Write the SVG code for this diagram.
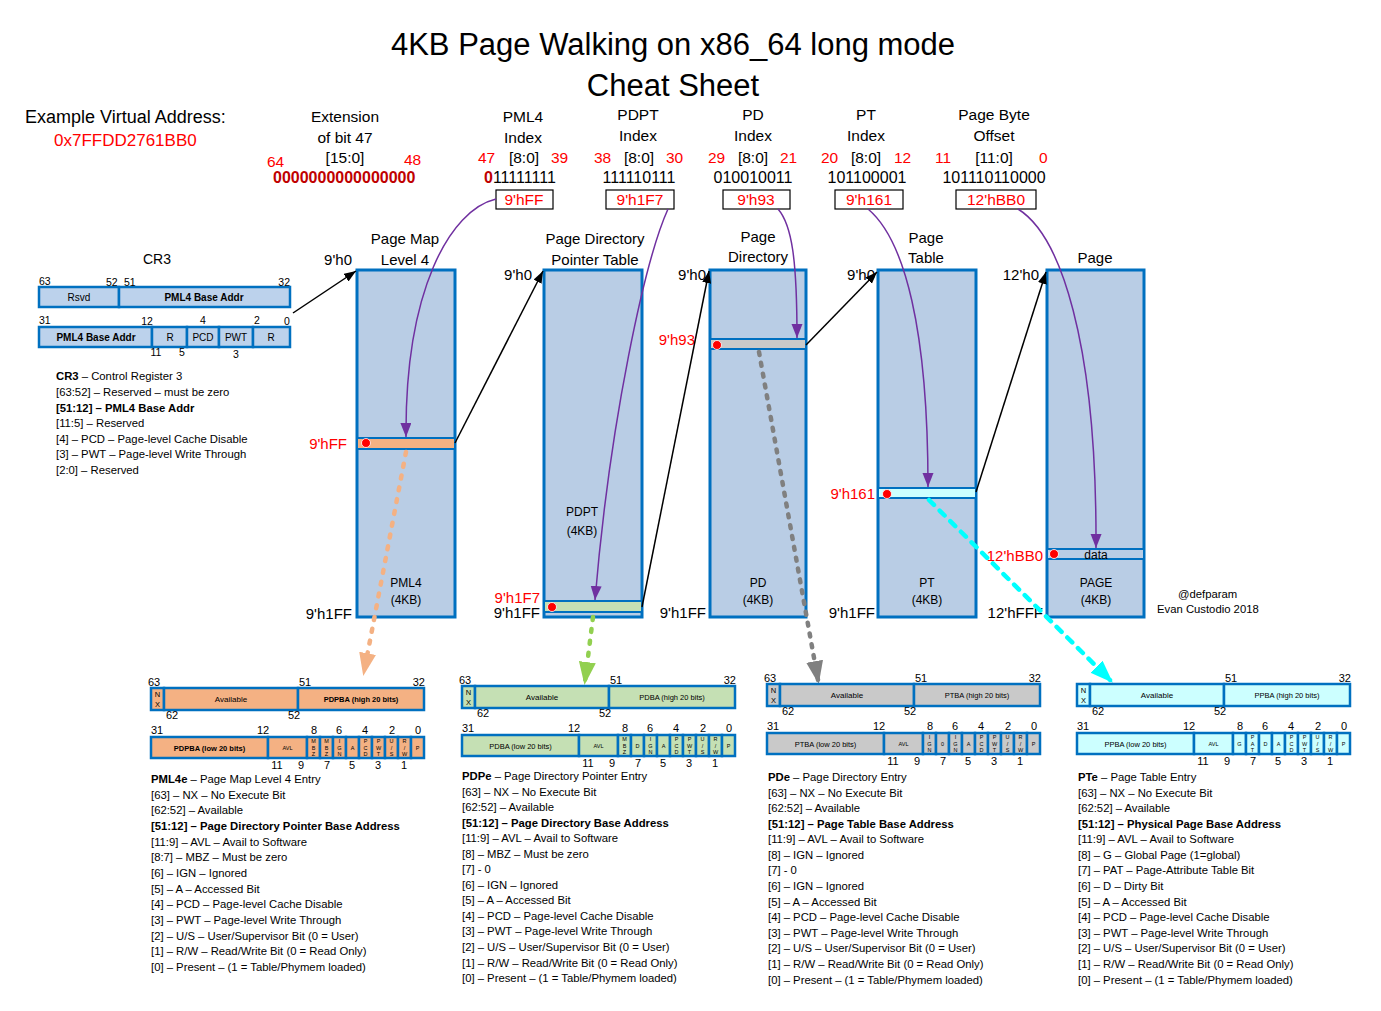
<svg xmlns="http://www.w3.org/2000/svg" width="1381" height="1011" viewBox="0 0 1381 1011">
<style>
text{font-family:"Liberation Sans",Arial,sans-serif;fill:#000}
.r{fill:#FF0000}
.dr{fill:#C00000;font-weight:bold}
.b{font-weight:bold}
.h{font-size:15.5px}
.tb{fill:#B9CDE5;stroke:#0070C0;stroke-width:3}
.row{stroke:#0070C0;stroke-width:2}
.reg rect{fill:#BCD2EC;stroke:#0070C0;stroke-width:2.5}
.ent rect{stroke:#0070C0;stroke-width:2.5}
.pml4e rect{fill:#F4B183}
.pdpe rect{fill:#C5E0B4}
.pde rect{fill:#C9C9C9}
.pte rect{fill:#CCFFFF}
.ent .n{font-size:11px}
.ent .s{font-size:5.5px;text-anchor:middle}
.ent .m{font-size:8px;text-anchor:middle}
.ent .x{font-size:7.5px;text-anchor:middle}
.lbl{font-size:11.3px}
.tl{font-size:15px}
.il{font-size:12px;text-anchor:middle}
.mid{text-anchor:middle}
.end{text-anchor:end}
.blk{stroke:#000;stroke-width:1.5;fill:none}
.pur{stroke:#7030A0;stroke-width:1.5;fill:none}
.dot{fill:#FF0000;stroke:#fff;stroke-width:0.8}
.idx{fill:#fff;stroke:#000;stroke-width:1.2}
</style>
<defs>
<marker id="ab" markerUnits="userSpaceOnUse" markerWidth="13" markerHeight="10" refX="12" refY="4.5" orient="auto"><path d="M0,0 L12,4.5 L0,9 z" fill="#000"/></marker>
<marker id="ap" markerUnits="userSpaceOnUse" markerWidth="15" markerHeight="12" refX="14" refY="5.5" orient="auto"><path d="M0,0 L14,5.5 L0,11 z" fill="#7030A0"/></marker>
<marker id="ao" markerUnits="userSpaceOnUse" markerWidth="24" markerHeight="18" refX="19" refY="8.5" orient="auto"><path d="M0,0 L23,8.5 L0,17 z" fill="#F4B183"/></marker>
<marker id="ag" markerUnits="userSpaceOnUse" markerWidth="24" markerHeight="18" refX="19" refY="8.5" orient="auto"><path d="M0,0 L23,8.5 L0,17 z" fill="#92D050"/></marker>
<marker id="ay" markerUnits="userSpaceOnUse" markerWidth="24" markerHeight="18" refX="19" refY="8.5" orient="auto"><path d="M0,0 L23,8.5 L0,17 z" fill="#808080"/></marker>
<marker id="ac" markerUnits="userSpaceOnUse" markerWidth="24" markerHeight="18" refX="19" refY="8.5" orient="auto"><path d="M0,0 L23,8.5 L0,17 z" fill="#00FFFF"/></marker>
</defs>
<rect width="1381" height="1011" fill="#fff"/>

<g id="title">
<text x="673" y="55" font-size="31" class="mid">4KB Page Walking on x86_64 long mode</text>
<text x="673" y="96" font-size="31" class="mid">Cheat Sheet</text>
</g>

<g id="vaddr">
<text x="25" y="123" font-size="18">Example Virtual Address:</text>
<text x="54" y="146" font-size="17" class="r">0x7FFDD2761BB0</text>
</g>

<g id="ext">
<text x="345" y="122" class="h mid">Extension</text>
<text x="345" y="143" class="h mid">of bit 47</text>
<text x="345" y="163" class="h mid">[15:0]</text>
<text x="267" y="167" class="h r">64</text>
<text x="404" y="165" class="h r">48</text>
<text x="273" y="183" font-size="16" class="dr">0000000000000000</text>
</g>

<g id="idx-pml4">
<text x="523" y="122" class="h mid">PML4</text>
<text x="523" y="143" class="h mid">Index</text>
<text x="478" y="163" class="h r">47</text>
<text x="524" y="163" class="h mid">[8:0]</text>
<text x="551" y="163" class="h r">39</text>
<text x="484" y="183" font-size="16"><tspan class="dr">0</tspan>11111111</text>
<rect x="496" y="190" width="57" height="19" class="idx"/>
<text x="524" y="205" font-size="15.5" class="r mid">9'hFF</text>
</g>
<g id="idx-pdpt">
<text x="638" y="120" class="h mid">PDPT</text>
<text x="638" y="141" class="h mid">Index</text>
<text x="594" y="163" class="h r">38</text>
<text x="639" y="163" class="h mid">[8:0]</text>
<text x="666" y="163" class="h r">30</text>
<text x="639" y="183" font-size="16" class="mid">111110111</text>
<rect x="606" y="190" width="68" height="19" class="idx"/>
<text x="640" y="205" font-size="15.5" class="r mid">9'h1F7</text>
</g>
<g id="idx-pd">
<text x="753" y="120" class="h mid">PD</text>
<text x="753" y="141" class="h mid">Index</text>
<text x="708" y="163" class="h r">29</text>
<text x="753" y="163" class="h mid">[8:0]</text>
<text x="780" y="163" class="h r">21</text>
<text x="753" y="183" font-size="16" class="mid">010010011</text>
<rect x="723" y="190" width="67" height="19" class="idx"/>
<text x="756" y="205" font-size="15.5" class="r mid">9'h93</text>
</g>
<g id="idx-pt">
<text x="866" y="120" class="h mid">PT</text>
<text x="866" y="141" class="h mid">Index</text>
<text x="821" y="163" class="h r">20</text>
<text x="866" y="163" class="h mid">[8:0]</text>
<text x="894" y="163" class="h r">12</text>
<text x="867" y="183" font-size="16" class="mid">101100001</text>
<rect x="835" y="190" width="68" height="19" class="idx"/>
<text x="869" y="205" font-size="15.5" class="r mid">9'h161</text>
</g>
<g id="idx-off">
<text x="994" y="120" class="h mid">Page Byte</text>
<text x="994" y="141" class="h mid">Offset</text>
<text x="935" y="163" class="h r">11</text>
<text x="994" y="163" class="h mid">[11:0]</text>
<text x="1039" y="163" class="h r">0</text>
<text x="994" y="183" font-size="16" class="mid">101110110000</text>
<rect x="956" y="190" width="80" height="19" class="idx"/>
<text x="996" y="205" font-size="15.5" class="r mid">12'hBB0</text>
</g>

<g id="cr3">
<text x="157" y="264" font-size="14" class="mid">CR3</text>
<g class="reg">
<rect x="39" y="287" width="80" height="20"/>
<rect x="119" y="287" width="171" height="20"/>
<rect x="39" y="327" width="113" height="20"/>
<rect x="152" y="327" width="35" height="20"/>
<rect x="187" y="327" width="32" height="20"/>
<rect x="219" y="327" width="34" height="20"/>
<rect x="253" y="327" width="37" height="20"/>
</g>
<text x="79" y="301" font-size="10" class="mid">Rsvd</text>
<text x="204" y="301" font-size="10" class="mid b">PML4 Base Addr</text>
<text x="96" y="341" font-size="10" class="mid b">PML4 Base Addr</text>
<text x="170" y="341" font-size="10" class="mid">R</text>
<text x="203" y="341" font-size="10" class="mid">PCD</text>
<text x="236" y="341" font-size="10" class="mid">PWT</text>
<text x="271" y="341" font-size="10" class="mid">R</text>
<text x="39" y="285" font-size="10.5">63</text>
<text x="106" y="286" font-size="10.5">52</text>
<text x="124" y="286" font-size="10.5">51</text>
<text x="290" y="286" font-size="10.5" class="end">32</text>
<text x="39" y="324" font-size="10.5">31</text>
<text x="147" y="325" font-size="10.5" class="mid">12</text>
<text x="203" y="324" font-size="10.5" class="mid">4</text>
<text x="257" y="324" font-size="10.5" class="mid">2</text>
<text x="287" y="325" font-size="10.5" class="mid">0</text>
<text x="156" y="356" font-size="10.5" class="mid">11</text>
<text x="182" y="356" font-size="10.5" class="mid">5</text>
<text x="236" y="358" font-size="10.5" class="mid">3</text>
<text x="56" y="380" class="lbl"><tspan class="b">CR3</tspan> – Control Register 3</text>
<text x="56" y="396" class="lbl">[63:52] – Reserved – must be zero</text>
<text x="56" y="412" class="lbl b">[51:12] – PML4 Base Addr</text>
<text x="56" y="427" class="lbl">[11:5] – Reserved</text>
<text x="56" y="443" class="lbl">[4] – PCD – Page-level Cache Disable</text>
<text x="56" y="458" class="lbl">[3] – PWT – Page-level Write Through</text>
<text x="56" y="474" class="lbl">[2:0] – Reserved</text>
</g>

<g id="pml4">
<text x="405" y="244" class="tl mid">Page Map</text>
<text x="405" y="265" class="tl mid">Level 4</text>
<rect x="357" y="270" width="98" height="347" class="tb"/>
<rect x="357" y="438" width="98" height="11" fill="#F4B183" class="row"/>
<circle cx="366" cy="443" r="4.5" class="dot"/>
<text x="352" y="265" class="tl end">9'h0</text>
<text x="347" y="449" class="tl end r">9'hFF</text>
<text x="352" y="619" class="tl end">9'h1FF</text>
<text x="406" y="587" class="il">PML4</text>
<text x="406" y="604" class="il">(4KB)</text>
</g>

<g id="pdpt">
<text x="595" y="244" class="tl mid">Page Directory</text>
<text x="595" y="265" class="tl mid">Pointer Table</text>
<rect x="544" y="270" width="98" height="347" class="tb"/>
<rect x="544" y="601" width="98" height="11" fill="#C5E0B4" class="row"/>
<circle cx="552" cy="607" r="4.5" class="dot"/>
<text x="532" y="280" class="tl end">9'h0</text>
<text x="540" y="603" class="tl end r">9'h1F7</text>
<text x="540" y="618" class="tl end">9'h1FF</text>
<text x="582" y="516" class="il">PDPT</text>
<text x="582" y="535" class="il">(4KB)</text>
</g>

<g id="pd">
<text x="758" y="242" class="tl mid">Page</text>
<text x="758" y="262" class="tl mid">Directory</text>
<rect x="710" y="270" width="96" height="347" class="tb"/>
<rect x="710" y="339" width="96" height="10" fill="#C9C9C9" class="row"/>
<circle cx="717" cy="345" r="4.5" class="dot"/>
<text x="706" y="280" class="tl end">9'h0</text>
<text x="695" y="345" class="tl end r">9'h93</text>
<text x="706" y="618" class="tl end">9'h1FF</text>
<text x="758" y="587" class="il">PD</text>
<text x="758" y="604" class="il">(4KB)</text>
</g>

<g id="pt">
<text x="926" y="243" class="tl mid">Page</text>
<text x="926" y="263" class="tl mid">Table</text>
<rect x="878" y="270" width="98" height="347" class="tb"/>
<rect x="878" y="488" width="98" height="10" fill="#CCFFFF" class="row"/>
<circle cx="887" cy="494" r="4.5" class="dot"/>
<text x="875" y="280" class="tl end">9'h0</text>
<text x="875" y="499" class="tl end r">9'h161</text>
<text x="875" y="618" class="tl end">9'h1FF</text>
<text x="927" y="587" class="il">PT</text>
<text x="927" y="604" class="il">(4KB)</text>
</g>

<g id="page">
<text x="1095" y="263" class="tl mid">Page</text>
<rect x="1047" y="270" width="97" height="347" class="tb"/>
<rect x="1047" y="549" width="97" height="10" fill="#B9CDE5" class="row"/>
<circle cx="1054" cy="554" r="4.5" class="dot"/>
<text x="1096" y="559" class="il">data</text>
<text x="1039" y="280" class="tl end">12'h0</text>
<text x="1043" y="561" class="tl end r">12'hBB0</text>
<text x="1043" y="618" class="tl end">12'hFFF</text>
<text x="1096" y="587" class="il">PAGE</text>
<text x="1096" y="604" class="il">(4KB)</text>
</g>

<g id="credit">
<text x="1178" y="598" font-size="11.3">@defparam</text>
<text x="1157" y="613" font-size="11.3">Evan Custodio 2018</text>
</g>

<g id="connectors">
<line x1="293" y1="313" x2="356" y2="271" class="blk" marker-end="url(#ab)"/>
<line x1="455" y1="443" x2="543" y2="271" class="blk" marker-end="url(#ab)"/>
<line x1="642" y1="607" x2="709" y2="271" class="blk" marker-end="url(#ab)"/>
<line x1="806" y1="345" x2="877" y2="272" class="blk" marker-end="url(#ab)"/>
<line x1="976" y1="492" x2="1046" y2="272" class="blk" marker-end="url(#ab)"/>
<path d="M496,199 C450,210 405,290 406,437" class="pur" marker-end="url(#ap)"/>
<path d="M668,209 C645,260 610,420 595,600" class="pur" marker-end="url(#ap)"/>
<path d="M778,209 C792,225 797,260 797,338" class="pur" marker-end="url(#ap)"/>
<path d="M868,209 C905,240 928,330 928,487" class="pur" marker-end="url(#ap)"/>
<path d="M1018,209 C1060,235 1097,340 1096,548" class="pur" marker-end="url(#ap)"/>
<line x1="406" y1="452" x2="364" y2="672" stroke="#F4B183" stroke-width="4.5" stroke-linecap="round" stroke-dasharray="3 9" marker-end="url(#ao)"/>
<line x1="593" y1="617" x2="585" y2="681" stroke="#92D050" stroke-width="4.5" stroke-linecap="round" stroke-dasharray="3 9" marker-end="url(#ag)"/>
<line x1="759" y1="352" x2="818" y2="680" stroke="#808080" stroke-width="4.5" stroke-linecap="round" stroke-dasharray="3 8" marker-end="url(#ay)"/>
<line x1="929" y1="500" x2="1110" y2="680" stroke="#00FFFF" stroke-width="4.5" stroke-linecap="round" stroke-dasharray="7 8" marker-end="url(#ac)"/>
</g>

<g id="pml4e" class="ent pml4e" transform="translate(151,688)">
<rect x="0" y="0" width="13" height="22"/><rect x="13" y="0" width="134" height="22"/><rect x="147" y="0" width="126" height="22"/>
<rect x="0" y="49" width="117" height="21"/><rect x="117" y="49" width="39" height="21"/>
<rect x="156" y="49" width="13" height="21"/><rect x="169" y="49" width="13" height="21"/><rect x="182" y="49" width="13" height="21"/><rect x="195" y="49" width="13" height="21"/><rect x="208" y="49" width="13" height="21"/><rect x="221" y="49" width="13" height="21"/><rect x="234" y="49" width="13" height="21"/><rect x="247" y="49" width="13" height="21"/><rect x="260" y="49" width="13" height="21"/>
<text class="x" x="6.5" y="9">N</text><text class="x" x="6.5" y="19">X</text>
<text class="m" x="80" y="14">Available</text>
<text class="x b" x="210" y="14">PDPBA (high 20 bits)</text>
<text class="x b" x="58.5" y="62.5">PDPBA (low 20 bits)</text>
<text class="s" x="136.5" y="62">AVL</text>
<text class="s"><tspan x="162.5" y="55">M</tspan><tspan x="162.5" y="61.5">B</tspan><tspan x="162.5" y="68">Z</tspan></text>
<text class="s"><tspan x="175.5" y="55">M</tspan><tspan x="175.5" y="61.5">B</tspan><tspan x="175.5" y="68">Z</tspan></text>
<text class="s"><tspan x="188.5" y="55">I</tspan><tspan x="188.5" y="61.5">G</tspan><tspan x="188.5" y="68">N</tspan></text>
<text class="s" x="201.5" y="62">A</text>
<text class="s"><tspan x="214.5" y="55">P</tspan><tspan x="214.5" y="61.5">C</tspan><tspan x="214.5" y="68">D</tspan></text>
<text class="s"><tspan x="227.5" y="55">P</tspan><tspan x="227.5" y="61.5">W</tspan><tspan x="227.5" y="68">T</tspan></text>
<text class="s"><tspan x="240.5" y="55">U</tspan><tspan x="240.5" y="61.5">/</tspan><tspan x="240.5" y="68">S</tspan></text>
<text class="s"><tspan x="253.5" y="55">R</tspan><tspan x="253.5" y="61.5">/</tspan><tspan x="253.5" y="68">W</tspan></text>
<text class="s" x="266.5" y="62">P</text>
<text class="n" x="-3" y="-2">63</text><text class="n mid" x="154" y="-2">51</text><text class="n end" x="274" y="-2">32</text>
<text class="n mid" x="21" y="31">62</text><text class="n mid" x="143" y="31">52</text>
<text class="n" x="0" y="46">31</text><text class="n mid" x="112" y="46">12</text><text class="n mid" x="163" y="46">8</text><text class="n mid" x="188" y="46">6</text><text class="n mid" x="214" y="46">4</text><text class="n mid" x="241" y="46">2</text><text class="n mid" x="267" y="46">0</text>
<text class="n mid" x="126" y="81">11</text><text class="n mid" x="150" y="81">9</text><text class="n mid" x="176" y="81">7</text><text class="n mid" x="201" y="81">5</text><text class="n mid" x="227" y="81">3</text><text class="n mid" x="253" y="81">1</text>
</g>

<g id="pdpe" class="ent pdpe" transform="translate(462,686)">
<rect x="0" y="0" width="13" height="22"/><rect x="13" y="0" width="134" height="22"/><rect x="147" y="0" width="126" height="22"/>
<rect x="0" y="49" width="117" height="21"/><rect x="117" y="49" width="39" height="21"/>
<rect x="156" y="49" width="13" height="21"/><rect x="169" y="49" width="13" height="21"/><rect x="182" y="49" width="13" height="21"/><rect x="195" y="49" width="13" height="21"/><rect x="208" y="49" width="13" height="21"/><rect x="221" y="49" width="13" height="21"/><rect x="234" y="49" width="13" height="21"/><rect x="247" y="49" width="13" height="21"/><rect x="260" y="49" width="13" height="21"/>
<text class="x" x="6.5" y="9">N</text><text class="x" x="6.5" y="19">X</text>
<text class="m" x="80" y="14">Available</text>
<text class="x" x="210" y="14">PDBA (high 20 bits)</text>
<text class="x" x="58.5" y="62.5">PDBA (low 20 bits)</text>
<text class="s" x="136.5" y="62">AVL</text>
<text class="s"><tspan x="162.5" y="55">M</tspan><tspan x="162.5" y="61.5">B</tspan><tspan x="162.5" y="68">Z</tspan></text>
<text class="s" x="175.5" y="62">D</text>
<text class="s"><tspan x="188.5" y="55">I</tspan><tspan x="188.5" y="61.5">G</tspan><tspan x="188.5" y="68">N</tspan></text>
<text class="s" x="201.5" y="62">A</text>
<text class="s"><tspan x="214.5" y="55">P</tspan><tspan x="214.5" y="61.5">C</tspan><tspan x="214.5" y="68">D</tspan></text>
<text class="s"><tspan x="227.5" y="55">P</tspan><tspan x="227.5" y="61.5">W</tspan><tspan x="227.5" y="68">T</tspan></text>
<text class="s"><tspan x="240.5" y="55">U</tspan><tspan x="240.5" y="61.5">/</tspan><tspan x="240.5" y="68">S</tspan></text>
<text class="s"><tspan x="253.5" y="55">R</tspan><tspan x="253.5" y="61.5">/</tspan><tspan x="253.5" y="68">W</tspan></text>
<text class="s" x="266.5" y="62">P</text>
<text class="n" x="-3" y="-2">63</text><text class="n mid" x="154" y="-2">51</text><text class="n end" x="274" y="-2">32</text>
<text class="n mid" x="21" y="31">62</text><text class="n mid" x="143" y="31">52</text>
<text class="n" x="0" y="46">31</text><text class="n mid" x="112" y="46">12</text><text class="n mid" x="163" y="46">8</text><text class="n mid" x="188" y="46">6</text><text class="n mid" x="214" y="46">4</text><text class="n mid" x="241" y="46">2</text><text class="n mid" x="267" y="46">0</text>
<text class="n mid" x="126" y="81">11</text><text class="n mid" x="150" y="81">9</text><text class="n mid" x="176" y="81">7</text><text class="n mid" x="201" y="81">5</text><text class="n mid" x="227" y="81">3</text><text class="n mid" x="253" y="81">1</text>
</g>

<g id="pde" class="ent pde" transform="translate(767,684)">
<rect x="0" y="0" width="13" height="22"/><rect x="13" y="0" width="134" height="22"/><rect x="147" y="0" width="126" height="22"/>
<rect x="0" y="49" width="117" height="21"/><rect x="117" y="49" width="39" height="21"/>
<rect x="156" y="49" width="13" height="21"/><rect x="169" y="49" width="13" height="21"/><rect x="182" y="49" width="13" height="21"/><rect x="195" y="49" width="13" height="21"/><rect x="208" y="49" width="13" height="21"/><rect x="221" y="49" width="13" height="21"/><rect x="234" y="49" width="13" height="21"/><rect x="247" y="49" width="13" height="21"/><rect x="260" y="49" width="13" height="21"/>
<text class="x" x="6.5" y="9">N</text><text class="x" x="6.5" y="19">X</text>
<text class="m" x="80" y="14">Available</text>
<text class="x" x="210" y="14">PTBA (high 20 bits)</text>
<text class="x" x="58.5" y="62.5">PTBA (low 20 bits)</text>
<text class="s" x="136.5" y="62">AVL</text>
<text class="s"><tspan x="162.5" y="55">I</tspan><tspan x="162.5" y="61.5">G</tspan><tspan x="162.5" y="68">N</tspan></text>
<text class="s" x="175.5" y="62">0</text>
<text class="s"><tspan x="188.5" y="55">I</tspan><tspan x="188.5" y="61.5">G</tspan><tspan x="188.5" y="68">N</tspan></text>
<text class="s" x="201.5" y="62">A</text>
<text class="s"><tspan x="214.5" y="55">P</tspan><tspan x="214.5" y="61.5">C</tspan><tspan x="214.5" y="68">D</tspan></text>
<text class="s"><tspan x="227.5" y="55">P</tspan><tspan x="227.5" y="61.5">W</tspan><tspan x="227.5" y="68">T</tspan></text>
<text class="s"><tspan x="240.5" y="55">U</tspan><tspan x="240.5" y="61.5">/</tspan><tspan x="240.5" y="68">S</tspan></text>
<text class="s"><tspan x="253.5" y="55">R</tspan><tspan x="253.5" y="61.5">/</tspan><tspan x="253.5" y="68">W</tspan></text>
<text class="s" x="266.5" y="62">P</text>
<text class="n" x="-3" y="-2">63</text><text class="n mid" x="154" y="-2">51</text><text class="n end" x="274" y="-2">32</text>
<text class="n mid" x="21" y="31">62</text><text class="n mid" x="143" y="31">52</text>
<text class="n" x="0" y="46">31</text><text class="n mid" x="112" y="46">12</text><text class="n mid" x="163" y="46">8</text><text class="n mid" x="188" y="46">6</text><text class="n mid" x="214" y="46">4</text><text class="n mid" x="241" y="46">2</text><text class="n mid" x="267" y="46">0</text>
<text class="n mid" x="126" y="81">11</text><text class="n mid" x="150" y="81">9</text><text class="n mid" x="176" y="81">7</text><text class="n mid" x="201" y="81">5</text><text class="n mid" x="227" y="81">3</text><text class="n mid" x="253" y="81">1</text>
</g>

<g id="pte" class="ent pte" transform="translate(1077,684)">
<rect x="0" y="0" width="13" height="22"/><rect x="13" y="0" width="134" height="22"/><rect x="147" y="0" width="126" height="22"/>
<rect x="0" y="49" width="117" height="21"/><rect x="117" y="49" width="39" height="21"/>
<rect x="156" y="49" width="13" height="21"/><rect x="169" y="49" width="13" height="21"/><rect x="182" y="49" width="13" height="21"/><rect x="195" y="49" width="13" height="21"/><rect x="208" y="49" width="13" height="21"/><rect x="221" y="49" width="13" height="21"/><rect x="234" y="49" width="13" height="21"/><rect x="247" y="49" width="13" height="21"/><rect x="260" y="49" width="13" height="21"/>
<text class="x" x="6.5" y="9">N</text><text class="x" x="6.5" y="19">X</text>
<text class="m" x="80" y="14">Available</text>
<text class="x" x="210" y="14">PPBA (high 20 bits)</text>
<text class="x" x="58.5" y="62.5">PPBA (low 20 bits)</text>
<text class="s" x="136.5" y="62">AVL</text>
<text class="s" x="162.5" y="62">G</text>
<text class="s"><tspan x="175.5" y="55">P</tspan><tspan x="175.5" y="61.5">A</tspan><tspan x="175.5" y="68">T</tspan></text>
<text class="s" x="188.5" y="62">D</text>
<text class="s" x="201.5" y="62">A</text>
<text class="s"><tspan x="214.5" y="55">P</tspan><tspan x="214.5" y="61.5">C</tspan><tspan x="214.5" y="68">D</tspan></text>
<text class="s"><tspan x="227.5" y="55">P</tspan><tspan x="227.5" y="61.5">W</tspan><tspan x="227.5" y="68">T</tspan></text>
<text class="s"><tspan x="240.5" y="55">U</tspan><tspan x="240.5" y="61.5">/</tspan><tspan x="240.5" y="68">S</tspan></text>
<text class="s"><tspan x="253.5" y="55">R</tspan><tspan x="253.5" y="61.5">/</tspan><tspan x="253.5" y="68">W</tspan></text>
<text class="s" x="266.5" y="62">P</text>
<text class="n mid" x="154" y="-2">51</text><text class="n end" x="274" y="-2">32</text>
<text class="n mid" x="21" y="31">62</text><text class="n mid" x="143" y="31">52</text>
<text class="n" x="0" y="46">31</text><text class="n mid" x="112" y="46">12</text><text class="n mid" x="163" y="46">8</text><text class="n mid" x="188" y="46">6</text><text class="n mid" x="214" y="46">4</text><text class="n mid" x="241" y="46">2</text><text class="n mid" x="267" y="46">0</text>
<text class="n mid" x="126" y="81">11</text><text class="n mid" x="150" y="81">9</text><text class="n mid" x="176" y="81">7</text><text class="n mid" x="201" y="81">5</text><text class="n mid" x="227" y="81">3</text><text class="n mid" x="253" y="81">1</text>
</g>

<g id="pml4e-desc">
<text x="151" y="783" class="lbl"><tspan class="b">PML4e</tspan> – Page Map Level 4 Entry</text>
<text x="151" y="799" class="lbl">[63] – NX – No Execute Bit</text>
<text x="151" y="814" class="lbl">[62:52] – Available</text>
<text x="151" y="830" class="lbl b">[51:12] – Page Directory Pointer Base Address</text>
<text x="151" y="846" class="lbl">[11:9] – AVL – Avail to Software</text>
<text x="151" y="861" class="lbl">[8:7] – MBZ – Must be zero</text>
<text x="151" y="877" class="lbl">[6] – IGN – Ignored</text>
<text x="151" y="893" class="lbl">[5] – A – Accessed Bit</text>
<text x="151" y="908" class="lbl">[4] – PCD – Page-level Cache Disable</text>
<text x="151" y="924" class="lbl">[3] – PWT – Page-level Write Through</text>
<text x="151" y="940" class="lbl">[2] – U/S – User/Supervisor Bit (0 = User)</text>
<text x="151" y="955" class="lbl">[1] – R/W – Read/Write Bit (0 = Read Only)</text>
<text x="151" y="971" class="lbl">[0] – Present – (1 = Table/Phymem loaded)</text>
</g>

<g id="pdpe-desc">
<text x="462" y="780" class="lbl"><tspan class="b">PDPe</tspan> – Page Directory Pointer Entry</text>
<text x="462" y="796" class="lbl">[63] – NX – No Execute Bit</text>
<text x="462" y="811" class="lbl">[62:52] – Available</text>
<text x="462" y="827" class="lbl b">[51:12] – Page Directory Base Address</text>
<text x="462" y="842" class="lbl">[11:9] – AVL – Avail to Software</text>
<text x="462" y="858" class="lbl">[8] – MBZ – Must be zero</text>
<text x="462" y="873" class="lbl">[7] - 0</text>
<text x="462" y="889" class="lbl">[6] – IGN – Ignored</text>
<text x="462" y="904" class="lbl">[5] – A – Accessed Bit</text>
<text x="462" y="920" class="lbl">[4] – PCD – Page-level Cache Disable</text>
<text x="462" y="935" class="lbl">[3] – PWT – Page-level Write Through</text>
<text x="462" y="951" class="lbl">[2] – U/S – User/Supervisor Bit (0 = User)</text>
<text x="462" y="967" class="lbl">[1] – R/W – Read/Write Bit (0 = Read Only)</text>
<text x="462" y="982" class="lbl">[0] – Present – (1 = Table/Phymem loaded)</text>
</g>

<g id="pde-desc">
<text x="768" y="781" class="lbl"><tspan class="b">PDe</tspan> – Page Directory Entry</text>
<text x="768" y="797" class="lbl">[63] – NX – No Execute Bit</text>
<text x="768" y="812" class="lbl">[62:52] – Available</text>
<text x="768" y="828" class="lbl b">[51:12] – Page Table Base Address</text>
<text x="768" y="843" class="lbl">[11:9] – AVL – Avail to Software</text>
<text x="768" y="859" class="lbl">[8] – IGN – Ignored</text>
<text x="768" y="874" class="lbl">[7] - 0</text>
<text x="768" y="890" class="lbl">[6] – IGN – Ignored</text>
<text x="768" y="906" class="lbl">[5] – A – Accessed Bit</text>
<text x="768" y="921" class="lbl">[4] – PCD – Page-level Cache Disable</text>
<text x="768" y="937" class="lbl">[3] – PWT – Page-level Write Through</text>
<text x="768" y="952" class="lbl">[2] – U/S – User/Supervisor Bit (0 = User)</text>
<text x="768" y="968" class="lbl">[1] – R/W – Read/Write Bit (0 = Read Only)</text>
<text x="768" y="984" class="lbl">[0] – Present – (1 = Table/Phymem loaded)</text>
</g>

<g id="pte-desc">
<text x="1078" y="781" class="lbl"><tspan class="b">PTe</tspan> – Page Table Entry</text>
<text x="1078" y="797" class="lbl">[63] – NX – No Execute Bit</text>
<text x="1078" y="812" class="lbl">[62:52] – Available</text>
<text x="1078" y="828" class="lbl b">[51:12] – Physical Page Base Address</text>
<text x="1078" y="843" class="lbl">[11:9] – AVL – Avail to Software</text>
<text x="1078" y="859" class="lbl">[8] – G – Global Page (1=global)</text>
<text x="1078" y="874" class="lbl">[7] – PAT – Page-Attribute Table Bit</text>
<text x="1078" y="890" class="lbl">[6] – D – Dirty Bit</text>
<text x="1078" y="906" class="lbl">[5] – A – Accessed Bit</text>
<text x="1078" y="921" class="lbl">[4] – PCD – Page-level Cache Disable</text>
<text x="1078" y="937" class="lbl">[3] – PWT – Page-level Write Through</text>
<text x="1078" y="952" class="lbl">[2] – U/S – User/Supervisor Bit (0 = User)</text>
<text x="1078" y="968" class="lbl">[1] – R/W – Read/Write Bit (0 = Read Only)</text>
<text x="1078" y="984" class="lbl">[0] – Present – (1 = Table/Phymem loaded)</text>
</g>
</svg>
